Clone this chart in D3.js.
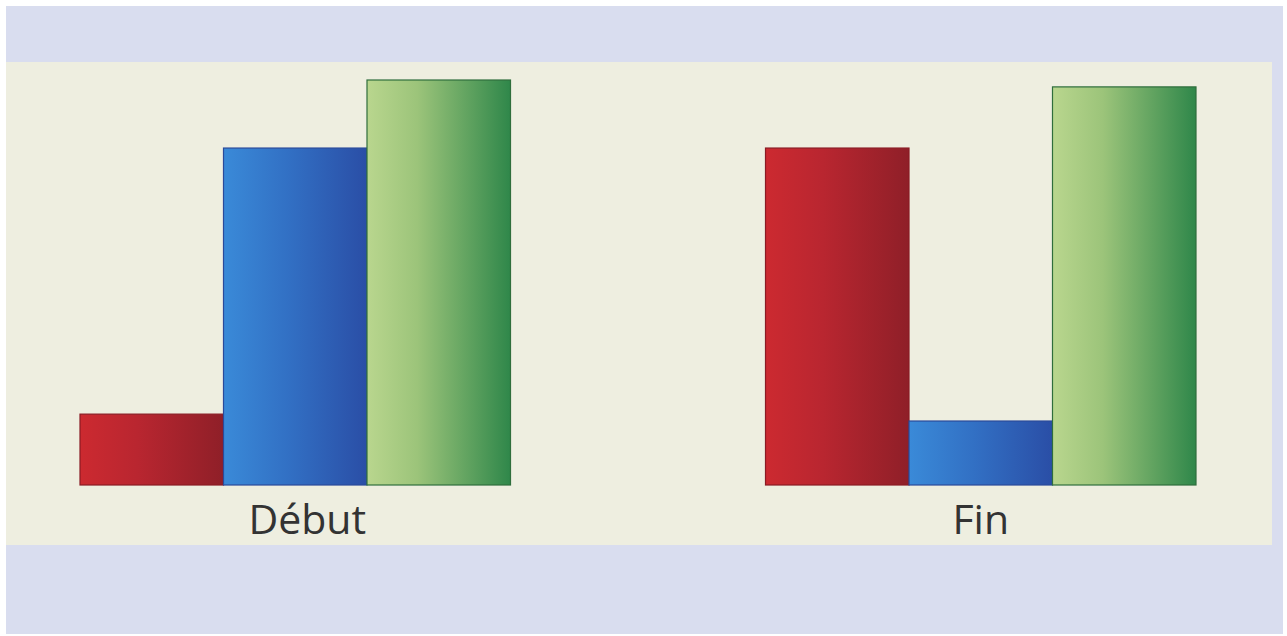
<!DOCTYPE html>
<html><head><meta charset="utf-8">
<script src="https://cdn.jsdelivr.net/npm/d3@7"></script>
<style>html,body{margin:0;padding:0;background:#fff;}svg{display:block;}</style>
</head><body>
<svg id="chart" width="1287" height="636"></svg>
<script>
const groups = ["Début", "Fin"];
const series = ["rouge", "bleu", "vert"];
const debutValues = [17.5, 83.2, 100];
const finValues = [83.2, 15.8, 98.3];

const data = groups.map((g, i) => ({group: g, values: [debutValues, finValues][i]}));

const svg = d3.select("#chart");
const W = 1287, H = 636;

// backgrounds
svg.append("rect").attr("x", 0).attr("y", 0).attr("width", W).attr("height", H).attr("fill", "#ffffff");
svg.append("rect").attr("x", 6).attr("y", 6).attr("width", 1277).attr("height", 628).attr("fill", "#d9ddef");
svg.append("rect").attr("x", 6).attr("y", 62).attr("width", 1266).attr("height", 483).attr("fill", "#eeeee0");

const defs = svg.append("defs");
const grads = {
  rouge: [["0%", "#cc2a30"], ["40%", "#b92630"], ["100%", "#8f1f28"]],
  bleu: [["0%", "#3a8ad8"], ["45%", "#3270c4"], ["100%", "#2a4ea6"]],
  vert: [["0%", "#b9d68e"], ["35%", "#9cc47a"], ["100%", "#2f874a"]]
};
const strokes = {rouge: "#8a1c24", bleu: "#2a4a9a", vert: "#2f6e3c"};
Object.entries(grads).forEach(([k, stops]) => {
  const lg = defs.append("linearGradient").attr("id", "g-" + k)
    .attr("x1", "0%").attr("x2", "100%").attr("y1", "0%").attr("y2", "0%");
  stops.forEach(([o, c]) => lg.append("stop").attr("offset", o).attr("stop-color", c));
});

const x0 = d3.scaleBand().domain(groups).range([80, 1196]).paddingInner(0.372).paddingOuter(0);
const x1 = d3.scaleBand().domain(series).range([0, x0.bandwidth()]).padding(0);
const y = d3.scaleLinear().domain([0, 100]).range([485, 80]);

const g = svg.selectAll("g.grp").data(data).join("g")
  .attr("class", "grp")
  .attr("transform", d => `translate(${x0(d.group)},0)`);

g.selectAll("rect").data(d => d.values.map((v, i) => ({s: series[i], v})))
  .join("rect")
  .attr("x", d => x1(d.s))
  .attr("y", d => y(d.v))
  .attr("width", x1.bandwidth())
  .attr("height", d => y(0) - y(d.v))
  .attr("fill", d => `url(#g-${d.s})`)
  .attr("stroke", d => strokes[d.s])
  .attr("stroke-width", 1.2);

const labelShift = {"Début": 12, "Fin": 0};
const xAxis = d3.axisBottom(x0).tickSize(0).tickPadding(0);
const ax = svg.append("g").attr("transform", "translate(0,485)").call(xAxis);
ax.select(".domain").remove();
ax.selectAll("text")
  .attr("dy", 0)
  .attr("y", 49)
  .attr("x", d => labelShift[d])
  .style("font-family", "'Open Sans', sans-serif")
  .style("font-size", "41px")
  .attr("fill", "#333333");
</script>
</body></html>
